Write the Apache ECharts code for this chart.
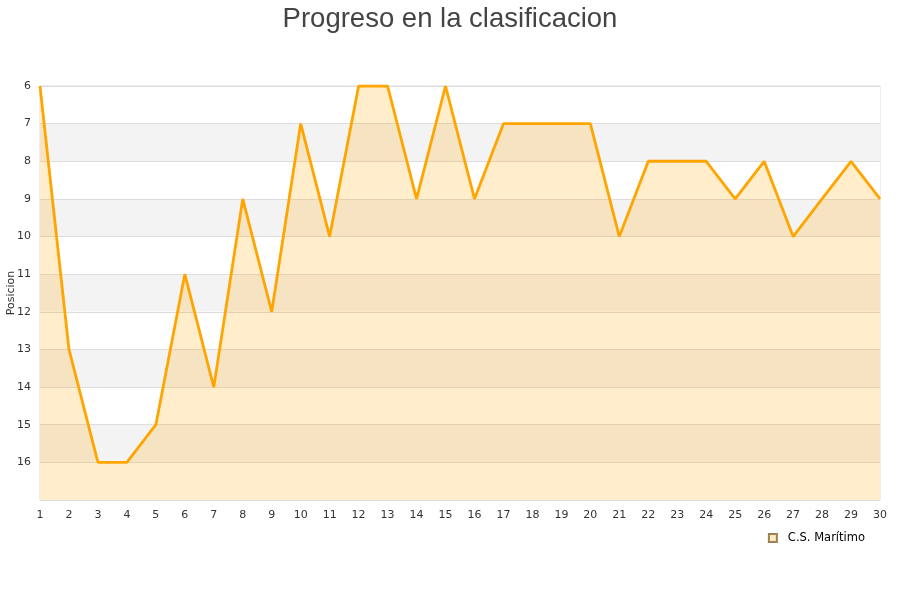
<!DOCTYPE html>
<html>
<head>
<meta charset="utf-8">
<script src="https://cdn.jsdelivr.net/npm/echarts@6/dist/echarts.min.js"></script>
<style>html,body{margin:0;padding:0;background:#fff}#c{width:900px;height:600px}</style>
</head>
<body>
<div id="c"></div>
<script>
var jornadas = ['1','2','3','4','5','6','7','8','9','10','11','12','13','14','15','16','17','18','19','20','21','22','23','24','25','26','27','28','29','30'];
var posiciones = [6,13,16,16,15,11,14,9,12,7,10,6,6,9,6,9,7,7,7,7,10,8,8,8,9,8,10,9,8,9];
var titulo = 'Progreso en la clasificacion';
var equipo = 'C.S. Marítimo';
var ejeY = 'Posicion';

var chart = echarts.init(document.getElementById('c'), null, {renderer:'canvas'});
chart.setOption({
  animation: false,
  backgroundColor: '#fff',
  title: {
    text: titulo, left: 'center', top: 0,
    textStyle: {fontFamily: 'Liberation Sans', fontSize: 27.5, fontWeight: 'normal', color: '#444'}
  },
  legend: {
    data: [{name: equipo, icon: 'rect'}],
    right: 30, top: 527,
    itemWidth: 8, itemHeight: 8,
    textStyle: {fontFamily: 'DejaVu Sans', fontSize: 11.5, color: '#000', padding: [0, 0, 0, 6]}
  },
  grid: {left: 40, right: 20, top: 86, bottom: 100, containLabel: false, outerBoundsMode: 'none', show: true, borderColor: '#ddd', borderWidth: 1},
  xAxis: {
    type: 'category', data: jornadas, boundaryGap: false,
    axisLine: {show: false},
    axisTick: {show: false},
    axisLabel: {fontFamily: 'DejaVu Sans', fontSize: 11, color: '#333', margin: 10, interval: 0},
    splitLine: {show: false}
  },
  yAxis: {
    type: 'value', inverse: true, min: 6, max: 17, interval: 1,
    name: ejeY, nameLocation: 'middle', nameGap: 23, nameRotate: 90, nameMoveOverlap: false,
    nameTextStyle: {fontFamily: 'DejaVu Sans', fontSize: 11, color: '#333'},
    axisLine: {show: false}, axisTick: {show: false},
    axisLabel: {fontFamily: 'DejaVu Sans', fontSize: 11, color: '#333', margin: 9,
      formatter: function(v){ return v >= 17 ? '' : String(v); }},
    splitLine: {show: true, lineStyle: {color: '#ddd', width: 1}},
    splitArea: {show: true, areaStyle: {color: ['#ffffff', '#f3f3f3']}}
  },
  series: [{
    name: equipo, type: 'line', data: posiciones,
    symbol: 'none', smooth: false,
    lineStyle: {color: '#ffa500', width: 2.8},
    itemStyle: {color: '#fde9c4', borderColor: '#a08050', borderWidth: 1},
    areaStyle: {color: 'rgba(255,165,0,0.2)', opacity: 1, origin: 'end'}
  }]
});
</script>
</body>
</html>
